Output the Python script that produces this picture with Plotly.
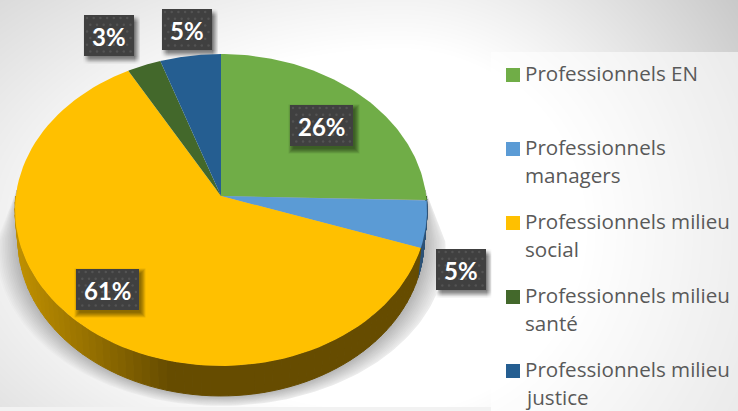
import numpy as np
import plotly.graph_objects as go

# ---- data ----
categories = ["Professionnels EN", "Professionnels managers", "Professionnels milieu social",
              "Professionnels milieu santé", "Professionnels milieu justice"]
shares = [25.4, 4.9, 61.6, 2.9, 5.2]
share_labels = ["26%", "5%", "61%", "3%", "5%"]
colors = ["#70AD47", "#5B9BD5", "#FFC000", "#43682B", "#255E91"]
side_dark = ["#3c5d26", "#2f5478", "#664C00", "#243816", "#133250"]
legend_lines = [["Professionnels EN"], ["Professionnels", "managers"], ["Professionnels milieu", "social"],
                ["Professionnels milieu", "santé"], ["Professionnels milieu", "justice"]]

# ---- layout parameters ----
W, H = 738, 411
CX, CY, RX, RY, K = 221.0, 196.0, 205.2, 154.7, 0.0897
DEPTH, BSCALE = 30.0, 0.985
label_boxes = [(290, 105, 63, 41), (436, 249, 50, 41), (76, 269, 63, 41), (84, 15, 50, 41), (162, 9, 50, 41)]
legend_x, legend_top, legend_step, line_step = 506, 75, 74, 28


def top(theta):
    """theta: clockwise from 12 o'clock, radians -> perspective pie face."""
    t = theta - np.pi / 2
    w = 1 - K * np.sin(t)
    return CX + RX * np.cos(t) / w, CY + RY * np.sin(t) / w


def bottom(theta):
    x, y = top(theta)
    return CX + (x - CX) * BSCALE, y + DEPTH


fig = go.Figure()


def poly(xs, ys, fill, line=None):
    fig.add_trace(go.Scatter(x=[float(v) for v in xs], y=[float(v) for v in ys], mode="lines", fill="toself",
                             fillcolor=fill, line=dict(color=line or "rgba(0,0,0,0)", width=1 if line else 0),
                             hoverinfo="skip", showlegend=False))


# background, with the soft shadows of the outer labels
gx = np.arange(0, W + 2, 2.0)
gy = np.arange(0, H + 2, 2.0)
X, Y = np.meshgrid(gx, gy)
dx = np.where(X < 400, (X - 400) * 0.6, X - 400)
d = np.hypot(dx, Y - 230)
z = 255 - 0.236 * np.clip(d - 180, 0, None)
keep = np.ones_like(z)
for bx, by, bw, bh in label_boxes:
    ax = np.clip((X - bx + 1) / 6, 0, 1) * np.clip((bx + bw + 6 - X) / 6, 0, 1)
    ay = np.clip((Y - by) / 6, 0, 1) * np.clip((by + bh + 7 - Y) / 6, 0, 1)
    keep *= 1 - 0.5 * ax * ay
z = np.round(z * keep, 1)
fig.add_trace(go.Heatmap(x=gx, y=gy, z=z, zmin=0, zmax=255, zsmooth="best", showscale=False, hoverinfo="skip",
                         colorscale=[[0, "#000000"], [1, "#ffffff"]]))
poly([491, W, W, 491, 491], [52, 52, H, H, 52], "rgba(255,255,255,0.57)")

# pie shadow: opaque grey outlines, widest and palest first
n_sh = 14
ex0, ey0 = top(np.radians(88))
ex1, ey1 = top(np.radians(272))
th_sh = np.linspace(np.radians(92), np.radians(268), 120)
xs_sh, ys_sh = top(th_sh)
for i in range(n_sh):
    g = 1 - i / (n_sh - 1)
    sx = CX + (xs_sh - CX) * (BSCALE + 0.105 * g)
    sy = ys_sh + DEPTH + 10 * g
    level = int(178 + 58 * g)
    poly([ex0] + list(sx) + [ex1, ex0], [ey0] + list(sy) + [ey1, ey0], "rgb(%d,%d,%d)" % (level, level, level))
poly([0, 491, 491, 0, 0], [407, 407, H, H, 407], "#f2f2f2")

# side wall
edges = np.radians(np.cumsum([0] + shares) * 3.6)
for i, (a, b) in enumerate(zip(edges[:-1], edges[1:])):
    lo, hi = max(a, np.radians(90)), min(b, np.radians(270))
    if lo >= hi:
        continue
    n = 70
    ths = np.linspace(lo, hi, n + 1)
    base = np.array([int(side_dark[i][j:j + 2], 16) for j in (1, 3, 5)], float)
    light = np.array([190, 143, 0], float) if i == 2 else base
    for t0, t1 in zip(ths[:-1], ths[1:]):
        tm = np.linspace(t0, t1, 3)
        xa, ya = top(tm)
        xb, yb = bottom(tm)
        xmid = xa.mean()
        f = np.clip((xmid - 20) / 150, 0, 1) if i == 2 else 1.0
        col = light + (base - light) * f
        c = "rgb(%d,%d,%d)" % tuple(col)
        poly(list(xa) + list(xb[::-1]) + [xa[0]], list(ya) + list(yb[::-1]) + [ya[0]], c, c)

# top faces
for col, a, b in zip(colors, edges[:-1], edges[1:]):
    th = np.linspace(a, b, 90)
    x, y = top(th)
    poly([CX] + list(x) + [CX], [CY] + list(y) + [CY], col)

# labels
annotations = []
for k, (text, (bx, by, bw, bh)) in enumerate(zip(share_labels, label_boxes)):
    if k in (0, 2):  # these two sit on the pie, so their shadow has to fall on it
        for i in range(7):
            g = 3.5 - i * 0.8
            poly([bx + 2 - g, bx + bw + 3 + g, bx + bw + 3 + g, bx + 2 - g, bx + 2 - g],
                 [by + 3 - g, by + 3 - g, by + bh + 4 + g, by + bh + 4 + g, by + 3 - g], "rgba(0,0,0,0.08)")
    poly([bx, bx + bw, bx + bw, bx, bx], [by, by, by + bh, by + bh, by], "#404040")
    px, py = [], []
    for r, yy in enumerate(np.arange(by + 3, by + bh - 1, 6.7)):
        for xx in np.arange(bx + 3 + (r % 2) * 3.3, bx + bw - 1, 6.7):
            px.append(float(xx))
            py.append(float(yy))
    fig.add_trace(go.Scatter(x=px, y=py, mode="markers", hoverinfo="skip", showlegend=False,
                             marker=dict(size=2.5, color="rgba(255,255,255,0.1)", line=dict(width=0))))
    annotations.append(dict(x=bx + bw / 2, y=by + bh / 2 + 0.5, text="<b>%s</b>" % text, showarrow=False,
                            xanchor="center", yanchor="middle", xref="x", yref="y",
                            font=dict(family="Lato", size=24, color="#FFFFFF")))

# legend
for i, (name, col, lines) in enumerate(zip(categories, colors, legend_lines)):
    ly = legend_top + i * legend_step
    fig.add_trace(go.Scatter(x=[legend_x + 7], y=[ly], mode="markers", hoverinfo="skip", showlegend=False, name=name,
                             marker=dict(symbol="square", size=14, color=col, line=dict(width=0))))
    for j, line in enumerate(lines):
        annotations.append(dict(x=525, y=ly + j * line_step, text=line, showarrow=False, xanchor="left",
                                yanchor="middle", xref="x", yref="y", xshift=-2, yshift=2,
                                font=dict(family="Open Sans", size=20.6, color="#595959")))

fig.update_layout(width=W, height=H, margin=dict(l=0, r=0, t=0, b=0), autosize=False,
                  paper_bgcolor="white", plot_bgcolor="white", annotations=annotations,
                  xaxis=dict(range=[0, W], visible=False, fixedrange=True),
                  yaxis=dict(range=[H, 0], visible=False, fixedrange=True))
fig.write_html("out.html", config={"displayModeBar": False},
               post_script="document.body.style.margin='0';document.body.style.overflow='hidden';")
